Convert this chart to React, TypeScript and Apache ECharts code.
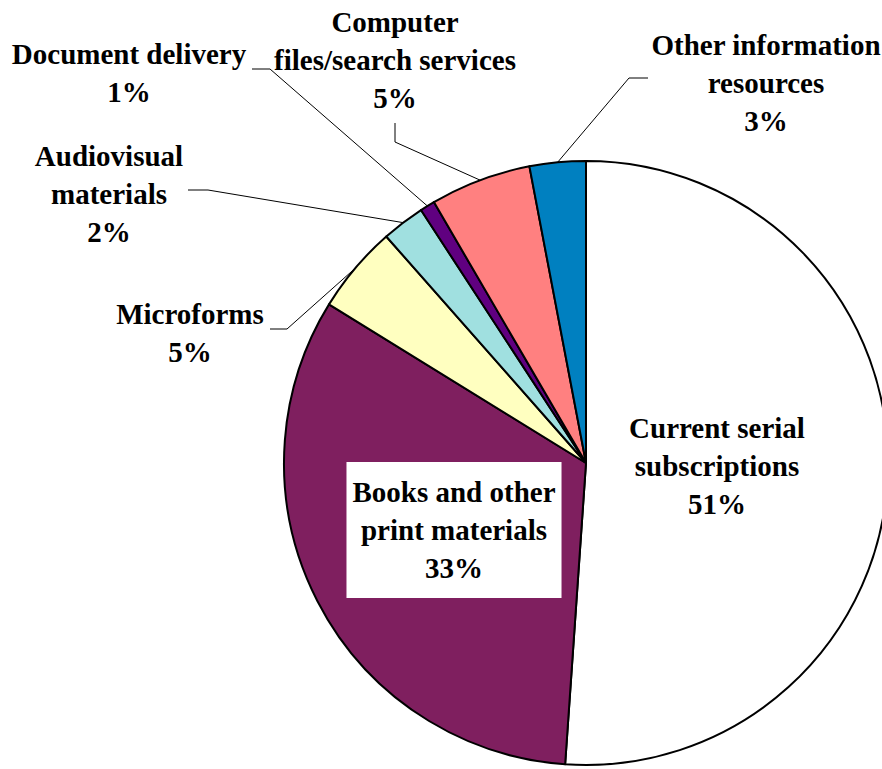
import React, { useEffect, useRef } from "react";
import * as echarts from "echarts";

// Expenditure categories (label text as shown on the chart)
const categories = [
  "Current serial\nsubscriptions",
  "Books and other\nprint materials",
  "Microforms",
  "Audiovisual\nmaterials",
  "Document delivery",
  "Computer\nfiles/search services",
  "Other information\nresources",
];
// Shares in percent
const shares = [51.1, 32.7, 4.7, 2.3, 0.8, 5.4, 3.0];
const colors = ["#FFFFFF", "#7F1F5F", "#FFFFC0", "#A0E0E0", "#600080", "#FF8080", "#0080C0"];

const CX = 586;
const CY = 463;
const R = 302;

// label placement (text block centre, leader line elbow and end)
const labelPlace: { x: number; y: number; elbow?: number[]; end?: number[] }[] = [
  { x: 717, y: 466 },
  { x: 454, y: 530 },
  { x: 190, y: 333, elbow: [287, 329], end: [270, 329] },
  { x: 109, y: 194, elbow: [208, 190], end: [188, 190] },
  { x: 129, y: 73, elbow: [270, 69], end: [252, 69] },
  { x: 395, y: 60, elbow: [395, 142], end: [395, 123] },
  { x: 766, y: 83, elbow: [629, 78], end: [648, 78] },
];

const FONT = "Liberation Serif";

export default function App() {
  const ref = useRef<HTMLDivElement>(null);
  useEffect(() => {
    if (!ref.current) return;
    const chart = echarts.init(ref.current, null, { renderer: "svg" });
    const total = shares.reduce((a, b) => a + b, 0);
    const midAngles: number[] = [];
    let acc = 0;
    shares.forEach((v) => {
      midAngles.push(((acc + v / 2) / total) * Math.PI * 2);
      acc += v;
    });
    const data = categories.map((name, i) => {
      const item: any = {
        name,
        value: shares[i],
        itemStyle: { color: colors[i] },
      };
      if (i === 0) {
        item.label = { position: "inside" };
        item.labelLine = { show: false };
      } else if (i === 1) {
        item.label = {
          position: "inside",
          backgroundColor: "#FFFFFF",
          padding: [11, 6],
        };
        item.labelLine = { show: false };
      }
      return item;
    });
    chart.setOption({
      animation: false,
      backgroundColor: "#FFFFFF",
      series: [
        {
          type: "pie",
          center: [CX, CY],
          radius: R,
          startAngle: 90,
          clockwise: true,
          avoidLabelOverlap: false,
          silent: true,
          itemStyle: { borderColor: "#000000", borderWidth: 2 },
          label: {
            show: true,
            position: "outside",
            color: "#000",
            fontFamily: FONT,
            fontWeight: "bold",
            fontSize: 29,
            lineHeight: 38,
            align: "center",
            formatter: (p: any) => `${p.name}\n${Math.round(p.percent)}%`,
          },
          labelLine: {
            show: true,
            length: 20,
            length2: 20,
            lineStyle: { color: "#000000", width: 1 },
          },
          labelLayout: (params: any) => {
            const i = params.dataIndex;
            const pl = labelPlace[i];
            const res: any = {
              x: pl.x,
              y: pl.y,
              align: "center",
              verticalAlign: "middle",
            };
            if (pl.elbow && pl.end) {
              const a = midAngles[i];
              const start = [CX + R * Math.sin(a), CY - R * Math.cos(a)];
              res.labelLinePoints = [start, pl.elbow, pl.end];
            }
            return res;
          },
          data,
        },
      ],
    });
    return () => chart.dispose();
  }, []);
  return (
    <div
      ref={ref}
      style={{ position: "absolute", left: 0, top: 0, width: 882, height: 769 }}
    />
  );
}
